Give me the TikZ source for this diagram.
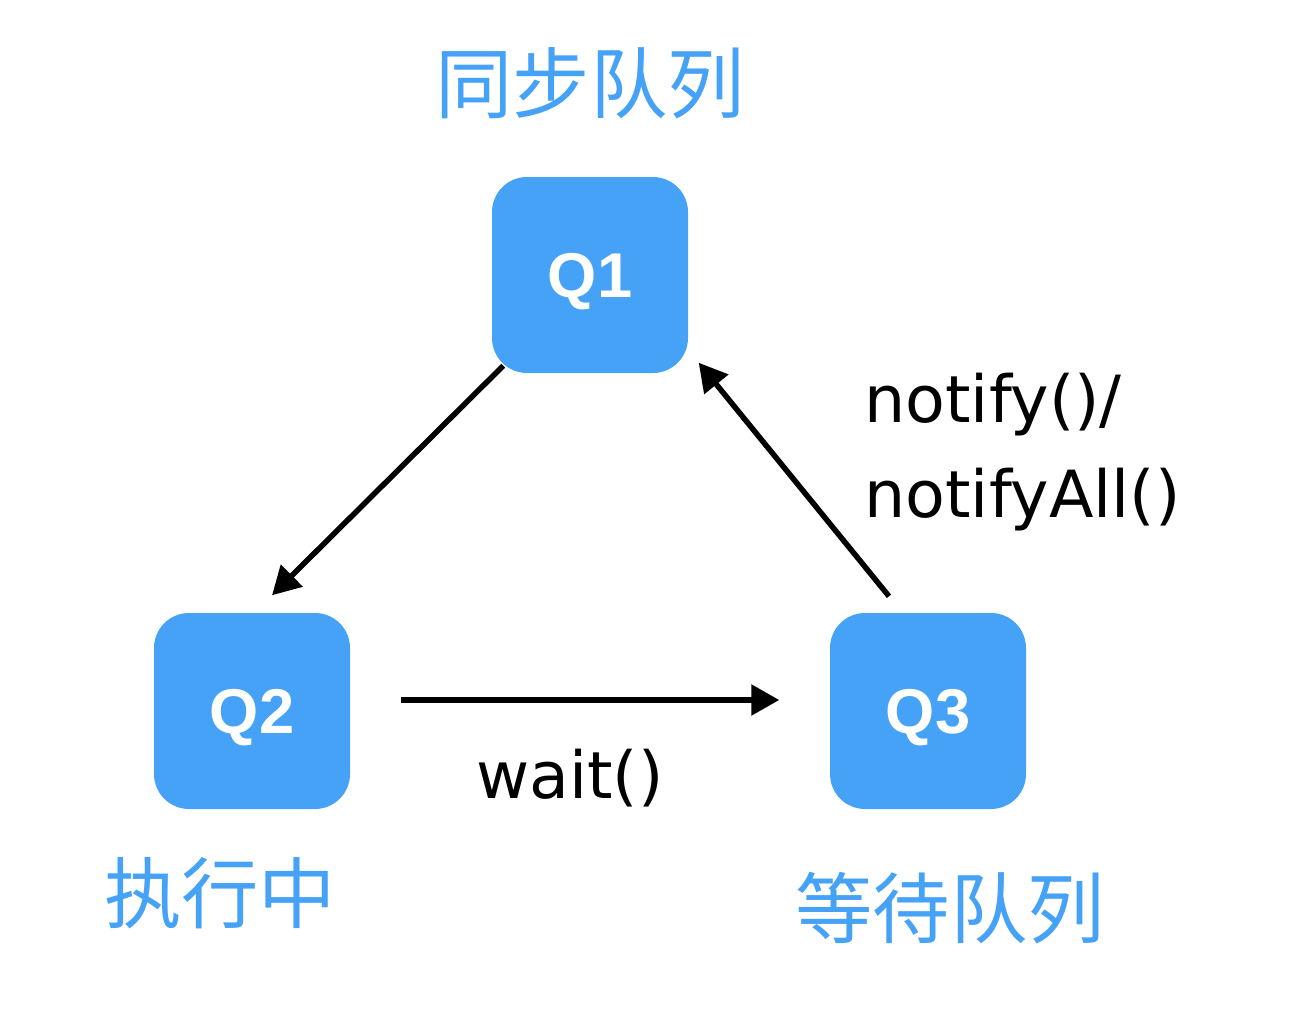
\documentclass[tikz,border=0pt]{standalone}
\usepackage{fontspec}
\setsansfont{Liberation Sans}
\newfontfamily\cjkfont{Noto Sans CJK SC}
\newfontfamily\handfont{DejaVu Sans}
\usetikzlibrary{arrows.meta, positioning, calc}
\definecolor{queueblue}{HTML}{46A2F6}

\begin{document}
\begin{tikzpicture}[
    node distance=0.5cm,
    qbox/.style={rectangle, rounded corners=0.35cm, minimum width=1.96cm,
                 minimum height=1.96cm, fill=queueblue, text=white, text depth=0pt,
                 font=\sffamily\bfseries\fontsize{18}{22}\selectfont},
    qlabel/.style={text=queueblue, font=\cjkfont\fontsize{22}{26}\selectfont},
    call/.style={font=\handfont\fontsize{18.5}{27}\selectfont, align=left},
    flow/.style={-{Triangle[length=0.28cm, width=0.3cm]}, line width=0.055cm},
]
\useasboundingbox (0,0) rectangle (13.16,10.18);

% Queues
\node[qbox] (q1) at (5.90,7.43) {Q1};
\node[qbox] (q2) at (2.52,3.07) {Q2};
\node[qbox] (q3) at (9.28,3.07) {Q3};

% Queue names
\node[qlabel, above=0.45cm of q1] (sync) {同步队列};
\node[qlabel, below=0.35cm of q2, xshift=-0.32cm] (running) {执行中};
\node[qlabel, below=0.5cm of q3, xshift=0.22cm] (waiting) {等待队列};

% Transitions
\draw[flow] ($(q1.south west)+(0.12,0.08)$) -- ($(q2.north)+(0.2,0.17)$);
\draw[flow] ($(q2.east)+(0.5,0.11)$) -- ($(q3.west)+(-0.5,0.11)$)
    node[call, midway, below=0.35cm, xshift=-0.2cm] (wait) {wait()};
\draw[flow] ($(q3.north)+(-0.39,0.16)$) -- ($(q1.south east)+(0.1,0.11)$);

% Label
\node[call, anchor=west] (notify) at (8.52,5.66) {notify()/\\notifyAll()};
\end{tikzpicture}
\end{document}
